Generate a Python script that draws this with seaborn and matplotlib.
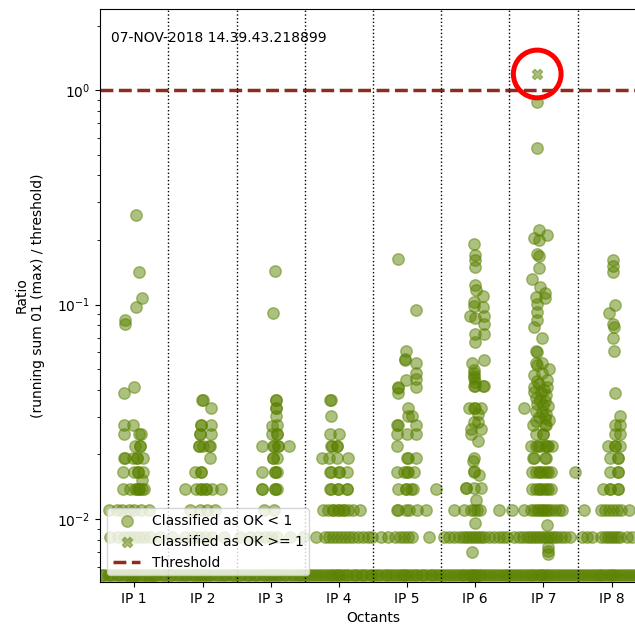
import matplotlib
matplotlib.use("Agg")
import matplotlib.pyplot as plt
import pandas as pd
import seaborn as sns

# ---------------- data ----------------
OCTANTS = ["IP 1", "IP 2", "IP 3", "IP 4", "IP 5", "IP 6", "IP 7", "IP 8"]
TIMESTAMP = "07-NOV-2018 14.39.43.218899"
THRESHOLD = 1.0

# (position offset from the IP in octant units, ratio)
IP1 = [(0.025, 0.261), (0.073, 0.142), (0.113, 0.107), (0.025, 0.097), (-0.136, 0.085), (-0.136, 0.081),
       (-0.147, 0.0385), (0.0, 0.0413), (-0.147, 0.0275), (-0.015, 0.0275), (-0.147, 0.0248), (0.073, 0.0248),
       (0.098, 0.0248), (0.015, 0.0220), (0.084, 0.0220), (0.078, 0.0220), (-0.147, 0.0193), (-0.14, 0.0193),
       (-0.025, 0.0193), (0.034, 0.0193), (0.04, 0.0193), (0.122, 0.0193), (-0.16, 0.0165), (-0.01, 0.0165),
       (0.049, 0.0165), (0.055, 0.0165), (0.122, 0.0165), (0.113, 0.0152), (-0.16, 0.0138), (-0.063, 0.0138),
       (0.015, 0.0138), (0.044, 0.0138), (0.063, 0.0138), (0.07, 0.0138), (0.113, 0.0138), (0.147, 0.0138),
       (-0.37, 0.0110), (-0.25, 0.0110), (-0.176, 0.0110), (-0.074, 0.0110), (0.0, 0.0110), (0.103, 0.0110),
       (0.22, 0.0110), (-0.029, 0.0051), (0.22, 0.0051)]
IP2 = [(0.0, 0.0358), (-0.01, 0.0358), (0.128, 0.0330), (-0.02, 0.0275), (-0.015, 0.0275), (0.128, 0.0275),
       (-0.044, 0.0248), (-0.04, 0.0248), (0.128, 0.0248), (-0.054, 0.0220), (-0.05, 0.0220), (0.005, 0.0220),
       (0.1, 0.0220), (0.105, 0.0220), (0.103, 0.0193), (-0.117, 0.0165), (-0.02, 0.0165), (-0.015, 0.0165),
       (-0.25, 0.0138), (-0.092, 0.0138), (-0.02, 0.0138), (-0.015, 0.0138), (0.05, 0.0138), (0.056, 0.0138),
       (0.143, 0.0138), (0.275, 0.0138), (-0.19, 0.0110), (-0.04, 0.0110), (0.06, 0.0110), (0.18, 0.0110)]
IP3 = [(0.069, 0.144), (0.034, 0.0917), (0.078, 0.0358), (0.083, 0.0358), (0.078, 0.0330), (0.083, 0.0330),
       (0.078, 0.0303), (0.088, 0.0275), (0.015, 0.0270), (0.015, 0.0248), (0.088, 0.0248), (0.092, 0.0248),
       (-0.132, 0.0220), (0.04, 0.0220), (0.045, 0.0220), (0.113, 0.0220), (0.108, 0.0220), (0.275, 0.0220),
       (0.029, 0.0193), (0.035, 0.0193), (0.098, 0.0193), (-0.132, 0.0165), (0.063, 0.0165), (0.068, 0.0165),
       (0.098, 0.0165), (-0.132, 0.0138), (-0.127, 0.0138), (0.063, 0.0138), (0.068, 0.0138), (0.098, 0.0138),
       (-0.1, 0.0110), (0.05, 0.0110)]
IP4 = [(-0.128, 0.0358), (-0.123, 0.0358), (-0.117, 0.0303), (-0.128, 0.0248), (0.0, 0.0248),
       (-0.113, 0.0220), (-0.108, 0.0220), (-0.029, 0.0220), (-0.024, 0.0220), (-0.25, 0.0193), (-0.15, 0.0193),
       (-0.029, 0.0193), (0.128, 0.0193), (-0.128, 0.0165), (-0.123, 0.0165), (0.0, 0.0165), (0.005, 0.0165),
       (0.117, 0.0165), (-0.128, 0.0138), (-0.123, 0.0138), (-0.02, 0.0138), (-0.015, 0.0138), (0.117, 0.0138),
       (0.122, 0.0138), (-0.235, 0.0110), (-0.16, 0.0110), (-0.088, 0.0110), (-0.08, 0.0110), (-0.015, 0.0110),
       (0.0, 0.0110), (0.059, 0.0110), (0.07, 0.0110), (0.132, 0.0110), (0.206, 0.0110), (0.31, 0.0110)]
IP5 = [(-0.128, 0.163), (0.128, 0.094), (-0.019, 0.0607), (-0.029, 0.0555), (-0.024, 0.0550), (0.128, 0.0532),
       (0.128, 0.0477), (0.128, 0.0450), (0.128, 0.0414), (-0.019, 0.0445), (-0.136, 0.0413), (-0.132, 0.0410),
       (-0.136, 0.0388), (0.02, 0.0330), (0.02, 0.0303), (0.078, 0.0303), (-0.142, 0.0275), (-0.137, 0.0275),
       (0.132, 0.0275), (-0.142, 0.0248), (0.005, 0.0248), (0.132, 0.0248), (-0.142, 0.0220), (0.005, 0.0193),
       (0.01, 0.0193), (0.128, 0.0193), (-0.142, 0.0165), (-0.044, 0.0165), (0.005, 0.0165), (0.01, 0.0165),
       (0.103, 0.0165), (-0.132, 0.0138), (-0.019, 0.0138), (-0.014, 0.0138), (0.054, 0.0138), (0.092, 0.0138),
       (0.42, 0.0138), (-0.142, 0.0110), (-0.137, 0.0110), (-0.019, 0.0110), (0.029, 0.0110), (0.152, 0.0110),
       (0.275, 0.0110)]
IP6 = [(-0.015, 0.191), (0.0, 0.170), (0.0, 0.162), (0.0, 0.150), (0.0, 0.123), (0.015, 0.117), (0.113, 0.110),
       (-0.015, 0.103), (-0.025, 0.098), (0.113, 0.097), (-0.073, 0.0886), (0.122, 0.088), (0.0, 0.087),
       (0.122, 0.0812), (0.132, 0.0732), (0.0, 0.073), (0.0, 0.067), (-0.048, 0.0536), (0.132, 0.0553),
       (-0.025, 0.0494), (-0.025, 0.0466), (0.0, 0.0437), (0.122, 0.0417), (-0.015, 0.0477), (-0.025, 0.0455),
       (-0.015, 0.0416), (-0.01, 0.0416), (0.108, 0.0416), (-0.088, 0.0330), (-0.015, 0.0330), (-0.01, 0.0330),
       (0.084, 0.0330), (0.034, 0.0310), (-0.015, 0.0284), (0.034, 0.0284), (0.084, 0.0262), (-0.063, 0.0262),
       (-0.063, 0.0249), (0.044, 0.0232), (-0.025, 0.0193), (-0.04, 0.0187), (-0.025, 0.0168), (-0.02, 0.0165),
       (0.059, 0.0160), (-0.136, 0.0139), (-0.13, 0.0139), (-0.015, 0.0139), (0.084, 0.0139), (0.01, 0.0122),
       (-0.31, 0.0110), (-0.16, 0.0110), (-0.059, 0.0110), (-0.015, 0.0110), (0.029, 0.0110), (0.073, 0.0110),
       (0.35, 0.0110), (0.0, 0.0096), (-0.048, 0.0070), (-0.015, 0.0051)]
IP7 = [(-0.092, 0.882), (-0.092, 0.538), (-0.059, 0.222), (-0.142, 0.205), (-0.069, 0.201), (0.054, 0.211),
       (-0.092, 0.172), (-0.059, 0.168), (-0.059, 0.148), (-0.166, 0.132), (-0.044, 0.121), (0.02, 0.113),
       (0.029, 0.107), (-0.103, 0.109), (-0.092, 0.101), (-0.092, 0.0925), (-0.092, 0.085), (-0.142, 0.079),
       (-0.029, 0.070), (-0.107, 0.0607), (-0.1, 0.0600), (-0.107, 0.0532), (-0.1, 0.0525), (-0.019, 0.0535),
       (0.078, 0.050), (-0.132, 0.0469), (-0.019, 0.0477), (0.054, 0.0445), (0.054, 0.0414), (-0.132, 0.0414),
       (-0.142, 0.039), (-0.29, 0.0330), (-0.117, 0.0365), (-0.044, 0.0360), (0.029, 0.0355), (-0.088, 0.0345),
       (0.0, 0.0340), (0.073, 0.0335), (-0.117, 0.0320), (-0.029, 0.0315), (0.044, 0.0310), (-0.073, 0.0300),
       (0.015, 0.0295), (0.088, 0.0290), (-0.103, 0.0285), (-0.059, 0.0425), (0.01, 0.0400), (-0.088, 0.0440),
       (0.04, 0.0380), (-0.03, 0.0390), (-0.147, 0.0275), (0.029, 0.0275), (0.035, 0.0275), (-0.117, 0.0248),
       (-0.01, 0.0248), (-0.005, 0.0248), (-0.19, 0.0220), (-0.117, 0.0220), (-0.044, 0.0220), (0.015, 0.0220),
       (0.073, 0.0220), (0.132, 0.0220), (-0.08, 0.0220), (0.045, 0.0220), (-0.147, 0.0193), (-0.14, 0.0193),
       (0.029, 0.0193), (0.035, 0.0193), (-0.166, 0.0165), (-0.103, 0.0165), (-0.044, 0.0165), (0.0, 0.0165),
       (0.059, 0.0165), (0.117, 0.0165), (0.456, 0.0165), (-0.07, 0.0165), (0.03, 0.0165), (-0.166, 0.0138),
       (-0.103, 0.0138), (-0.044, 0.0138), (0.0, 0.0138), (0.059, 0.0138), (0.117, 0.0138), (-0.07, 0.0138),
       (0.03, 0.0138), (-0.46, 0.0110), (-0.29, 0.0110), (-0.19, 0.0110), (-0.132, 0.0110), (-0.073, 0.0110),
       (-0.015, 0.0110), (0.044, 0.0110), (0.103, 0.0110), (0.162, 0.0110), (0.22, 0.0110), (0.27, 0.0110),
       (-0.1, 0.0110), (0.0, 0.0110), (0.07, 0.0110), (0.054, 0.0094), (0.059, 0.0074), (0.073, 0.0071),
       (0.063, 0.0069)]
IP8 = [(0.02, 0.162), (0.02, 0.152), (0.02, 0.142), (0.044, 0.0999), (-0.04, 0.0917), (0.02, 0.0812),
       (0.03, 0.079), (0.02, 0.0698), (0.034, 0.0607), (0.044, 0.0385), (0.117, 0.0303), (0.044, 0.0275),
       (0.117, 0.0275), (0.044, 0.0248), (0.117, 0.0248), (-0.054, 0.0220), (0.044, 0.0220), (0.05, 0.0220),
       (0.117, 0.0220), (-0.029, 0.0193), (0.092, 0.0193), (0.098, 0.0193), (-0.029, 0.0165), (0.092, 0.0165),
       (0.098, 0.0165), (-0.128, 0.0138), (-0.029, 0.0138), (-0.024, 0.0138), (0.092, 0.0138), (0.098, 0.0138),
       (-0.40, 0.0110), (-0.15, 0.0110), (-0.1, 0.0110), (-0.044, 0.0110), (0.015, 0.0110), (0.073, 0.0110),
       (0.14, 0.0110), (0.25, 0.0110)]
OCTANT_POINTS = [IP1, IP2, IP3, IP4, IP5, IP6, IP7, IP8]

# points classified as OK >= 1: (octant index, offset, ratio)
ABOVE = [(6, -0.092, 1.19)]

# many monitors sitting at the two lowest ratio levels (absolute positions, octant units)
BAND_LOW_RATIO = 0.0055
BAND_LOW_POS = [
    -0.48, -0.44, -0.39, -0.35, -0.31, -0.26, -0.22, -0.18, -0.13, -0.09, -0.05, -0.02, 0.01, 0.04, 0.08, 0.12,
    0.17, 0.21, 0.26, 0.3, 0.34, 0.39, 0.43, 0.47, 0.52, 0.56, 0.61, 0.65, 0.7, 0.74, 0.78, 0.83, 0.87, 0.91,
    0.95, 0.98, 1.02, 1.05, 1.09, 1.13, 1.18, 1.22, 1.27, 1.31, 1.35, 1.4, 1.44, 1.48, 1.53, 1.57, 1.62, 1.66,
    1.7, 1.75, 1.79, 1.83, 1.88, 1.92, 1.96, 1.99, 2.03, 2.06, 2.1, 2.14, 2.19, 2.23, 2.28, 2.32, 2.37, 2.41,
    2.45, 2.49, 2.53, 2.57, 2.62, 2.66, 2.71, 2.75, 2.79, 2.84, 2.88, 2.92, 2.96, 2.99, 3.02, 3.06, 3.1, 3.14,
    3.19, 3.23, 3.27, 3.32, 3.36, 3.4, 3.45, 3.49, 3.53, 3.58, 3.62, 3.67, 3.71, 3.75, 3.8, 3.84, 3.88, 3.92,
    3.96, 3.99, 4.03, 4.07, 4.11, 4.15, 4.2, 4.24, 4.28, 4.33, 4.37, 4.41, 4.46, 4.5, 4.54, 4.58, 4.63, 4.67,
    4.71, 4.76, 4.8, 4.84, 4.88, 4.92, 4.95, 4.98, 5.01, 5.05, 5.09, 5.13, 5.17, 5.22, 5.26, 5.3, 5.35, 5.39,
    5.43, 5.47, 5.51, 5.56, 5.6, 5.64, 5.69, 5.73, 5.77, 5.81, 5.85, 5.89, 5.93, 5.96, 5.99, 6.03, 6.07, 6.11,
    6.15, 6.2, 6.24, 6.29, 6.33, 6.37, 6.42, 6.46, 6.5, 6.55, 6.59, 6.64, 6.68, 6.72, 6.77, 6.81, 6.85, 6.89,
    6.93, 6.97, 7.0, 7.04, 7.08, 7.12, 7.16, 7.21, 7.25, 7.3, 7.34, 7.38, 7.43, 7.47]
BAND_MID_RATIO = 0.00825
BAND_MID_POS = [
    -0.356, -0.239, -0.151, -0.078, -0.004, 0.069, 0.142, 0.230, 0.377, 0.553, 0.743, 0.860, 0.948, 1.036,
    1.139, 1.315, 1.550, 1.696, 1.813, 1.916, 2.004, 2.092, 2.283, 2.473, 2.664, 2.796, 2.855, 2.913, 2.972,
    3.031, 3.089, 3.148, 3.207, 3.280, 3.353, 3.427, 3.485, 3.617, 3.720, 3.822, 3.896, 3.954, 4.013, 4.072,
    4.321, 4.541, 4.614, 4.688, 4.761, 4.819, 4.863, 4.907, 4.951, 4.995, 5.039, 5.083, 5.127, 5.201, 5.274,
    5.347, 5.406, 5.465, 5.567, 5.641, 5.699, 5.758, 5.802, 5.846, 5.890, 5.934, 5.978, 6.022, 6.066, 6.110,
    6.154, 6.198, 6.256, 6.315, 6.388, 6.564, 6.637, 6.711, 6.843, 6.901, 6.945, 6.989, 7.033, 7.077, 7.121,
    7.224, 7.297]

# ---------------- build tables ----------------
rows = []
for k, pts in enumerate(OCTANT_POINTS):
    for off, r in pts:
        rows.append((k + off, r))
for p in BAND_MID_POS:
    rows.append((p, BAND_MID_RATIO))
for p in BAND_LOW_POS:
    rows.append((p, BAND_LOW_RATIO))
df_ok = pd.DataFrame(rows, columns=["position", "ratio"])
df_hi = pd.DataFrame([(k + off, r) for k, off, r in ABOVE], columns=["position", "ratio"])

# ---------------- plot ----------------
POINT_COLOR = "#5b8200"
THRESH_COLOR = "#8c2d1e"

fig = plt.figure(figsize=(6.35, 6.28), dpi=100)
ax = fig.add_axes([0.1578, 0.0732, 0.8592, 0.9124])

sns.scatterplot(data=df_ok, x="position", y="ratio", color=POINT_COLOR, s=68, alpha=0.5,
                edgecolor=POINT_COLOR, linewidth=1, label="Classified as OK < 1", legend=False, ax=ax)
sns.scatterplot(data=df_hi, x="position", y="ratio", color=POINT_COLOR, s=55, alpha=0.5, marker="X",
                edgecolor=POINT_COLOR, linewidth=1, label="Classified as OK >= 1", legend=False, ax=ax)
thr = ax.axhline(THRESHOLD, color=THRESH_COLOR, linestyle="--", linewidth=2.5, label="Threshold")

for b in range(len(OCTANTS) - 1):
    ax.axvline(b + 0.5, color="black", linestyle=":", linewidth=1)

# highlight ring around the point above threshold
ax.scatter(df_hi["position"], df_hi["ratio"], s=1180, facecolors="none", edgecolors="red",
           linewidths=3.6, zorder=5)

ax.set_yscale("log")
ax.set_ylim(0.00508, 2.39)
ax.set_xlim(-0.5, 7.5)
ax.set_xticks(range(len(OCTANTS)))
ax.set_xticklabels(OCTANTS)
ax.set_xlabel("Octants")
ax.set_ylabel("Ratio\n(running sum 01 (max) / threshold)", labelpad=9)
ax.text(0.02, 0.962, TIMESTAMP, transform=ax.transAxes, ha="left", va="top", fontsize=10)

h = ax.collections[:2] + [thr]
ax.legend(h, [c.get_label() for c in h], loc="lower left")

fig.savefig("out.png", dpi=100)
